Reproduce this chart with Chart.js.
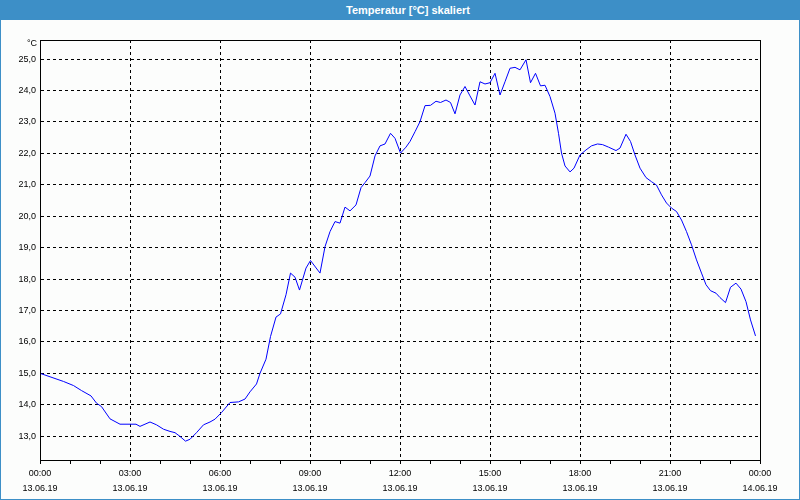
<!DOCTYPE html>
<html lang="de">
<head>
  <meta charset="UTF-8">
  <title>Temperatur [°C] skaliert</title>
  <script src="https://cdn.jsdelivr.net/npm/chart.js"></script>
  <style>
    html, body { margin: 0; padding: 0; background: #fff; }
    .title-bar {
      height: 20px;
      background: #3d8fc7;
      color: #fff;
      font: bold 11px "Liberation Sans", Arial, sans-serif;
      line-height: 20px;
      text-align: center;
      padding-left: 16px;
      box-sizing: border-box;
      width: 800px;
    }
    .chart-box {
      width: 800px;
      height: 480px;
      box-sizing: border-box;
      border: 1px solid #3d8fc7;
      border-top: none;
      background: #fcfdfc;
    }
    canvas { display: block; }
  </style>
</head>
<body>
  <div class="title-bar">Temperatur [°C] skaliert</div>
  <div class="chart-box">
    <canvas id="tempChart" width="798" height="479"></canvas>
  </div>

  <script>
    // minutes since 13.06.19 00:00
    const times = [
      0, 47, 67, 83, 102, 113, 123, 140, 160, 180, 192, 200, 220, 233, 247, 260, 270, 280, 291, 300,
      313, 327, 340, 350, 363, 380, 397, 410, 420, 433, 440, 452, 461, 472, 481, 492, 501, 510, 519, 532,
      541, 560, 570, 580, 590, 600, 610, 620, 632, 642, 650, 660, 670, 680, 690, 701, 710, 721, 732, 740,
      750, 760, 770, 781, 792, 801, 812, 821, 830, 840, 850, 860, 870, 880, 890, 900, 910, 920, 930, 940,
      950, 960, 972, 981, 991, 1001, 1010, 1020, 1030, 1037, 1043, 1050, 1060, 1068, 1080, 1092, 1103, 1115, 1125, 1137,
      1152, 1160, 1172, 1181, 1190, 1200, 1212, 1223, 1233, 1243, 1253, 1263, 1273, 1283, 1293, 1303, 1313, 1323, 1332, 1341,
      1352, 1360, 1371, 1381, 1392, 1402, 1412, 1421, 1431
    ];
    // temperature in °C
    const temps = [
      15.0, 14.74, 14.61, 14.45, 14.28, 14.05, 13.94, 13.55, 13.38, 13.38, 13.38, 13.31, 13.45, 13.36, 13.22, 13.15, 13.11, 12.99, 12.84, 12.9,
      13.11, 13.36, 13.45, 13.54, 13.75, 14.07, 14.09, 14.18, 14.41, 14.66, 15.0, 15.45, 16.17, 16.79, 16.89, 17.5, 18.19, 18.06, 17.65, 18.35,
      18.59, 18.19, 19.03, 19.51, 19.83, 19.78, 20.29, 20.17, 20.36, 20.91, 21.07, 21.28, 21.92, 22.24, 22.3, 22.64, 22.48, 22.01, 22.2, 22.38,
      22.69, 23.01, 23.52, 23.53, 23.66, 23.62, 23.7, 23.62, 23.26, 23.86, 24.13, 23.83, 23.54, 24.28, 24.21, 24.25, 24.55, 23.86, 24.28, 24.71,
      24.74, 24.66, 24.98, 24.25, 24.55, 24.15, 24.17, 23.81, 23.28, 22.64, 22.01, 21.6, 21.41, 21.53, 21.95, 22.11, 22.24, 22.3, 22.28, 22.2,
      22.09, 22.17, 22.61, 22.38, 21.95, 21.53, 21.23, 21.1, 20.99, 20.68, 20.42, 20.26, 20.15, 19.88, 19.51, 19.09, 18.61, 18.19, 17.82, 17.63,
      17.55, 17.41, 17.25, 17.74, 17.87, 17.68, 17.28, 16.7, 16.19
    ];
    const xTickTimes = ['00:00', '03:00', '06:00', '09:00', '12:00', '15:00', '18:00', '21:00', '00:00'];
    const xTickDates = ['13.06.19', '13.06.19', '13.06.19', '13.06.19', '13.06.19', '13.06.19', '13.06.19', '13.06.19', '14.06.19'];
    const yMin = 12.24;
    const yMax = 25.61;
    const unitLabel = '°C';

    const FONT = '"Liberation Sans", Arial, sans-serif';

    // box around plot area + unit label
    const framePlugin = {
      id: 'frame',
      afterDraw(chart) {
        const { ctx, chartArea } = chart;
        ctx.save();
        ctx.strokeStyle = '#000';
        ctx.lineWidth = 1;
        ctx.strokeRect(Math.round(chartArea.left) + 0.5, Math.round(chartArea.top) + 0.5,
          Math.round(chartArea.right - chartArea.left), Math.round(chartArea.bottom - chartArea.top));
        ctx.fillStyle = '#000';
        ctx.font = '9px ' + FONT;
        ctx.textAlign = 'right';
        ctx.textBaseline = 'middle';
        ctx.fillText(unitLabel, chartArea.left - 3, chartArea.top + 4);
        ctx.restore();
      }
    };

    new Chart(document.getElementById('tempChart'), {
      type: 'line',
      data: {
        datasets: [{
          data: times.map((t, i) => ({ x: t, y: temps[i] })),
          borderColor: '#0000ff',
          borderWidth: 1,
          pointRadius: 0,
          tension: 0,
          fill: false
        }]
      },
      options: {
        responsive: false,
        animation: false,
        layout: { padding: { top: 20, right: 39, left: 0, bottom: 0 } },
        plugins: {
          legend: { display: false },
          tooltip: { enabled: false }
        },
        scales: {
          x: {
            type: 'linear',
            min: 0,
            max: 1440,
            afterFit(scale) { scale.height = 39; },
            border: { display: true, color: '#000', width: 1, dash: [3, 3] },
            grid: {
              color: (ctx) => (ctx.tick && ctx.tick.value % 180 === 0) ? '#000' : 'rgba(0,0,0,0)',
              lineWidth: 1,
              drawTicks: true,
              tickLength: 4,
              tickColor: '#000',
              tickBorderDash: []
            },
            ticks: {
              stepSize: 60,
              autoSkip: false,
              maxRotation: 0,
              padding: 2,
              color: '#000',
              font: { family: FONT, size: 9, lineHeight: 1.67 },
              callback: (value) => value % 180 === 0 ? [xTickTimes[value / 180], xTickDates[value / 180]] : ''
            }
          },
          y: {
            min: yMin,
            max: yMax,
            afterFit(scale) { scale.width = 39; },
            border: { display: true, color: '#000', width: 1, dash: [3, 3] },
            grid: {
              color: '#000',
              lineWidth: 1,
              drawTicks: false
            },
            ticks: {
              stepSize: 1,
              includeBounds: false,
              padding: 4,
              color: '#000',
              font: { family: FONT, size: 9 },
              callback: (value) => value.toFixed(1).replace('.', ',')
            }
          }
        }
      },
      plugins: [framePlugin]
    });
  </script>
</body>
</html>
